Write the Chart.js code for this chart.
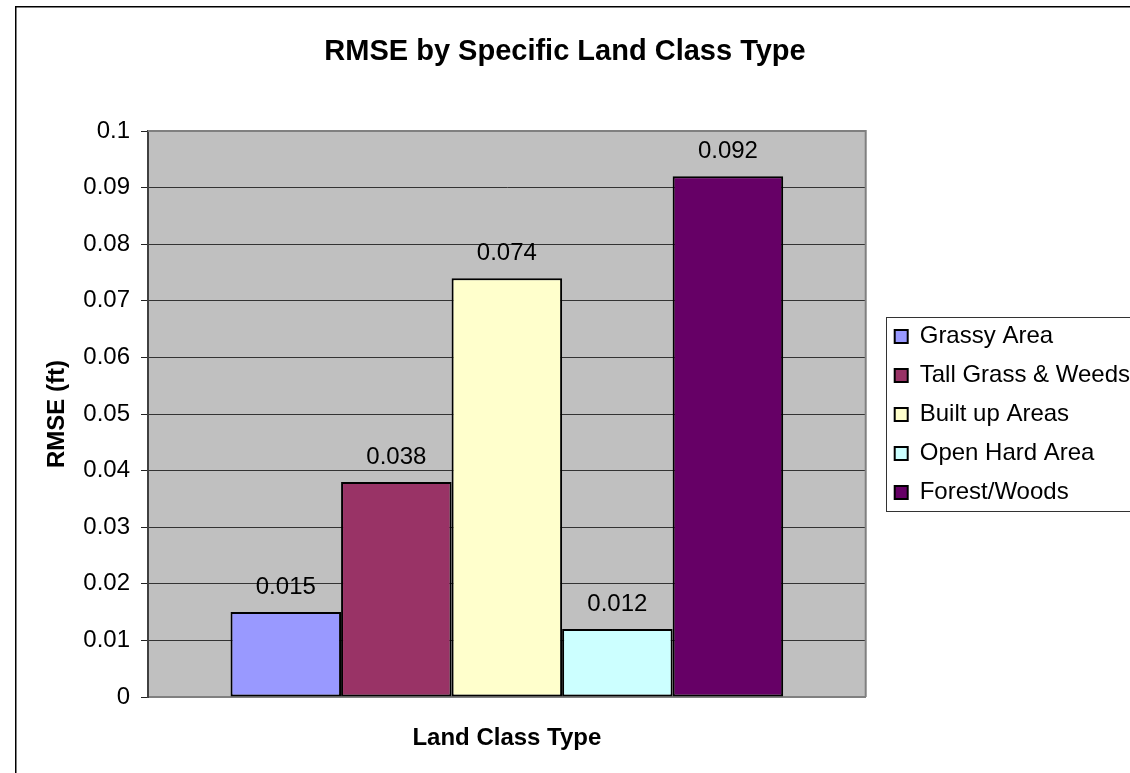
<!DOCTYPE html>
<html>
<head>
<meta charset="utf-8">
<script src="https://cdn.jsdelivr.net/npm/chart.js@4/dist/chart.umd.min.js"></script>
<style>
  html, body { margin: 0; padding: 0; background: #fff; overflow: hidden; }
  #wrap { width: 1130px; height: 773px; position: relative; }
</style>
</head>
<body>
<div id="wrap"><canvas id="c" width="1130" height="773"></canvas></div>
<script>
// ---- data ----
const categories = [''];
const seriesNames = ['Grassy Area', 'Tall Grass & Weeds', 'Built up Areas', 'Open Hard Area', 'Forest/Woods'];
const rmseValues = [0.015, 0.038, 0.074, 0.012, 0.092];
const yTickLabels = ['0', '0.01', '0.02', '0.03', '0.04', '0.05', '0.06', '0.07', '0.08', '0.09', '0.1'];
const seriesColors = ['#9999FF', '#993366', '#FFFFCC', '#CCFFFF', '#660066'];

const FONT = '"Liberation Sans", Arial, Helvetica, sans-serif';
Chart.defaults.font.family = FONT;
Chart.defaults.color = '#000';

const LEG_PAD = 15, LEG_FONT = 24;

const datasets = seriesNames.map((name, i) => ({
  label: name,
  data: [rmseValues[i]],
  backgroundColor: seriesColors[i],
  borderColor: '#000',
  borderWidth: 2,
  borderSkipped: false,
  categoryPercentage: 0.77,
  barPercentage: 1.0
}));

const decorPlugin = {
  id: 'decor',
  afterLayout(chart) {
    // leave a gap between the plot area and the legend items, and lower the legend
    chart.legend.left += 14;
    chart.legend.right += 14;
    chart.legend.top += 28;
    chart.legend.bottom += 28;
  },
  beforeDraw(chart) {
    const { ctx, chartArea: a } = chart;
    ctx.save();
    ctx.fillStyle = '#fff';
    ctx.fillRect(0, 0, chart.width, chart.height);
    ctx.fillStyle = '#C0C0C0';
    ctx.fillRect(a.left, a.top, a.right - a.left, a.bottom - a.top);
    ctx.restore();
  },
  beforeDatasetsDraw(chart) {
    const { ctx, chartArea: a } = chart;
    ctx.save();
    ctx.strokeStyle = '#808080';
    ctx.lineWidth = 2;
    ctx.beginPath();
    ctx.moveTo(a.left, a.top);
    ctx.lineTo(a.right, a.top);
    ctx.lineTo(a.right, a.bottom);
    ctx.stroke();
    ctx.restore();
  },
  afterDatasetsDraw(chart) {
    const { ctx } = chart;
    ctx.save();
    ctx.font = '24px ' + FONT;
    ctx.fillStyle = '#000';
    ctx.textAlign = 'center';
    ctx.textBaseline = 'middle';
    chart.data.datasets.forEach((ds, i) => {
      const meta = chart.getDatasetMeta(i);
      meta.data.forEach((el, j) => {
        ctx.fillText(String(ds.data[j]), el.x, el.y - 25);
      });
    });
    ctx.restore();
  },
  afterDraw(chart) {
    const { ctx } = chart;
    const L = chart.legend;
    ctx.save();
    // outer chart border (top and left visible)
    ctx.strokeStyle = '#000';
    ctx.lineWidth = 1.5;
    ctx.beginPath();
    ctx.moveTo(15.75, chart.height + 5);
    ctx.lineTo(15.75, 6.75);
    ctx.lineTo(chart.width + 5, 6.75);
    ctx.stroke();
    // legend frame around the legend items
    const hb = L.legendHitBoxes;
    const n = chart.data.datasets.length;
    const step = LEG_FONT + LEG_PAD;
    let firstTop, x0;
    if (hb && hb.length) {
      firstTop = hb[0].top;
      x0 = hb[0].left - 9;
    } else {
      firstTop = (L.top + LEG_PAD + L.bottom - n * step) / 2;
      x0 = L.left + LEG_PAD - 9;
    }
    const top = firstTop - 8;
    const bottom = firstTop + (n - 1) * step + LEG_FONT + 6;
    ctx.strokeStyle = '#333';
    ctx.lineWidth = 1;
    ctx.strokeRect(Math.round(x0) + 0.5, Math.round(top) + 0.5, 400, Math.round(bottom - top));
    ctx.restore();
  }
};

new Chart(document.getElementById('c'), {
  type: 'bar',
  data: { labels: categories, datasets },
  options: {
    responsive: false,
    animation: false,
    devicePixelRatio: 1,
    layout: { padding: { left: 4, right: 4, top: 0, bottom: 0 } },
    plugins: {
      title: {
        display: true,
        text: 'RMSE by Specific Land Class Type',
        color: '#000',
        font: { size: 29, weight: 'bold', family: FONT },
        padding: { top: 34.6, bottom: 61.6 }
      },
      legend: {
        display: true,
        position: 'right',
        align: 'center',
        maxWidth: 264,
        labels: {
          color: '#000',
          font: { size: LEG_FONT, family: FONT },
          boxWidth: 13,
          boxHeight: 13,
          padding: LEG_PAD
        }
      },
      tooltip: { enabled: false }
    },
    scales: {
      x: {
        type: 'category',
        grid: { display: false },
        border: { display: true, color: '#808080', width: 2 },
        ticks: { display: false },
        title: {
          display: true,
          text: 'Land Class Type',
          color: '#000',
          font: { size: 24, weight: 'bold', family: FONT },
          padding: { top: 0, bottom: 20.6 }
        },
        afterFit(scale) { scale.height = 76; }
      },
      y: {
        type: 'linear',
        min: 0,
        max: 0.1,
        ticks: {
          stepSize: 0.01,
          color: '#000',
          font: { size: 24, family: FONT },
          padding: 11,
          callback: (v, i) => yTickLabels[i]
        },
        grid: {
          drawTicks: true,
          tickLength: 7,
          tickColor: '#222',
          lineWidth: 1,
          color: (c) => c.index === 0 ? 'rgba(0,0,0,0)' : (c.index === 10 ? '#808080' : '#333')
        },
        border: { display: true, color: '#404040', width: 2 },
        title: {
          display: true,
          text: 'RMSE (ft)',
          color: '#000',
          font: { size: 24, weight: 'bold', family: FONT },
          padding: { top: 38.6, bottom: 0 }
        },
        afterFit(scale) { scale.width = 144; }
      }
    }
  },
  plugins: [decorPlugin]
});
</script>
</body>
</html>
